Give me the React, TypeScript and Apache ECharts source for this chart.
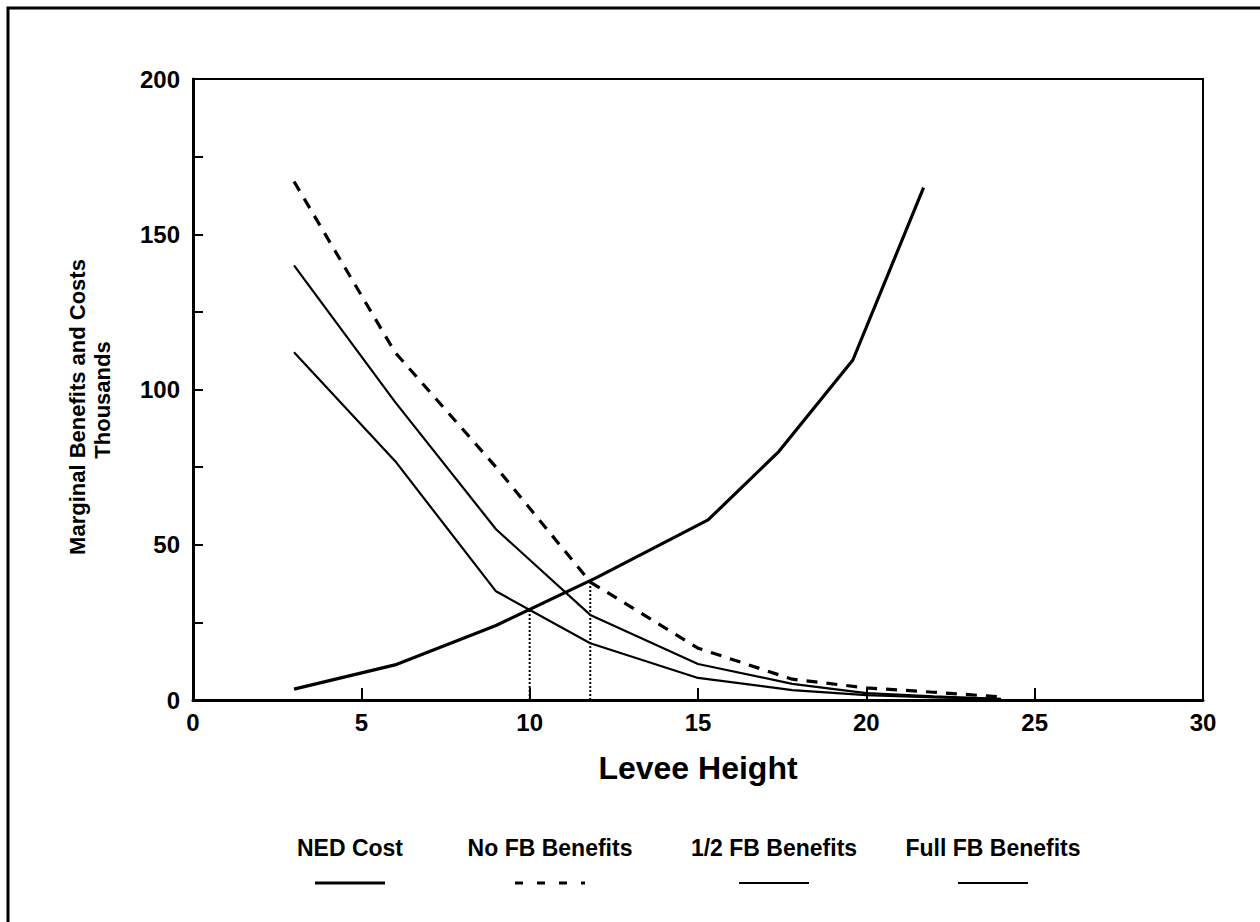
import React, { useEffect, useRef } from "react";
import * as echarts from "echarts";

const nedX = [3, 6, 9, 12, 15.3, 17.4, 19.6, 21.7];
const nedY = [3.5, 11.3, 24, 39.5, 58, 80, 109.5, 165];

const benefitX = [3, 6, 9, 11.8, 15, 17.8, 20, 22, 24];
const noFbY = [167, 112, 75, 38, 16.7, 6.7, 3.9, 2.5, 1];
const halfFbY = [140, 96, 55, 27.4, 11.6, 5.2, 2.2, 1.2, 0.4];
const fullFbY = [112, 77, 35, 18.3, 7.1, 3.2, 1.6, 0.8, 0.3];

const dropXs = [10, 11.8];
const dropYs = [29.2, 38.5];

const legendNames = ["NED Cost", "No FB Benefits", "1/2 FB Benefits", "Full FB Benefits"];
const legendCenters = [350, 550, 774, 993];

const FONT = "'Liberation Sans', Arial, sans-serif";

const zip = (xs: number[], ys: number[]) => xs.map((x, i) => [x, ys[i]]);

const lineStyles: any[] = [
  { color: "#000", width: 3.2, type: "solid" },
  { color: "#000", width: 3.2, type: [11, 9] },
  { color: "#000", width: 2.2, type: "solid" },
  { color: "#000", width: 2.2, type: "solid" },
];

export default function App() {
  const ref = useRef<HTMLDivElement>(null);
  useEffect(() => {
    document.body.style.margin = "0";
    const chart = echarts.init(ref.current!, null, { renderer: "svg" });
    const seriesData = [
      zip(nedX, nedY),
      zip(benefitX, noFbY),
      zip(benefitX, halfFbY),
      zip(benefitX, fullFbY),
    ];
    const series: any[] = seriesData.map((d, i) => ({
      name: legendNames[i],
      type: "line",
      data: d,
      showSymbol: false,
      lineStyle: lineStyles[i],
      z: 3,
    }));
    dropXs.forEach((x, i) => {
      series.push({
        name: "drop" + i,
        type: "line",
        data: [
          [x, 0],
          [x, dropYs[i]],
        ],
        showSymbol: false,
        lineStyle: { color: "#000", width: 2, type: [2, 2] },
        z: 2,
      });
    });

    const legendGraphics: any[] = [];
    legendNames.forEach((name, i) => {
      legendGraphics.push({
        type: "text",
        x: legendCenters[i],
        y: 848,
        style: {
          text: name,
          fill: "#000",
          font: `bold 23px ${FONT}`,
          textAlign: "center",
          textVerticalAlign: "middle",
        },
      });
      legendGraphics.push({
        type: "line",
        shape: { x1: legendCenters[i] - 35, y1: 883, x2: legendCenters[i] + 35, y2: 883 },
        style: {
          stroke: "#000",
          lineWidth: i < 2 ? 3 : 2.2,
          lineDash: i === 1 ? [8, 14] : null,
        },
      });
    });

    chart.setOption({
      animation: false,
      backgroundColor: "#fff",
      grid: {
        left: 193,
        top: 79,
        right: 57,
        bottom: 222,
        show: true,
        borderColor: "#000",
        borderWidth: 2,
        containLabel: false,
      },
      xAxis: {
        type: "value",
        min: 0,
        max: 30,
        interval: 5,
        axisLine: { onZero: false, lineStyle: { color: "#000", width: 3 } },
        axisTick: { inside: true, length: 12, lineStyle: { color: "#000", width: 2 } },
        axisLabel: { color: "#000", fontSize: 24, fontWeight: "bold", fontFamily: FONT, margin: 10 },
        splitLine: { show: false },
      },
      yAxis: {
        type: "value",
        min: 0,
        max: 200,
        interval: 25,
        axisLine: { onZero: false, lineStyle: { color: "#000", width: 3 } },
        axisTick: { inside: true, length: 10, lineStyle: { color: "#000", width: 2 } },
        axisLabel: {
          color: "#000",
          fontSize: 24,
          fontWeight: "bold",
          fontFamily: FONT,
          margin: 13,
          formatter: (v: number) => (v % 50 === 0 ? String(v) : ""),
        },
        splitLine: { show: false },
      },
      series,
      graphic: [
        {
          type: "rect",
          shape: { x: 8, y: 8, width: 1400, height: 1100 },
          style: { fill: "none", stroke: "#000", lineWidth: 3 },
          silent: true,
        },
        {
          type: "text",
          x: 698,
          y: 768,
          style: {
            text: "Levee Height",
            fill: "#000",
            font: `bold 32px ${FONT}`,
            textAlign: "center",
            textVerticalAlign: "middle",
          },
        },
        {
          type: "text",
          x: 77,
          y: 407,
          rotation: Math.PI / 2,
          style: {
            text: "Marginal Benefits and Costs",
            fill: "#000",
            font: `bold 22px ${FONT}`,
            textAlign: "center",
            textVerticalAlign: "middle",
          },
        },
        {
          type: "text",
          x: 102,
          y: 400,
          rotation: Math.PI / 2,
          style: {
            text: "Thousands",
            fill: "#000",
            font: `bold 22px ${FONT}`,
            textAlign: "center",
            textVerticalAlign: "middle",
          },
        },
        ...legendGraphics,
      ],
    });
    return () => chart.dispose();
  }, []);
  return <div ref={ref} style={{ width: 1260, height: 922 }} />;
}
